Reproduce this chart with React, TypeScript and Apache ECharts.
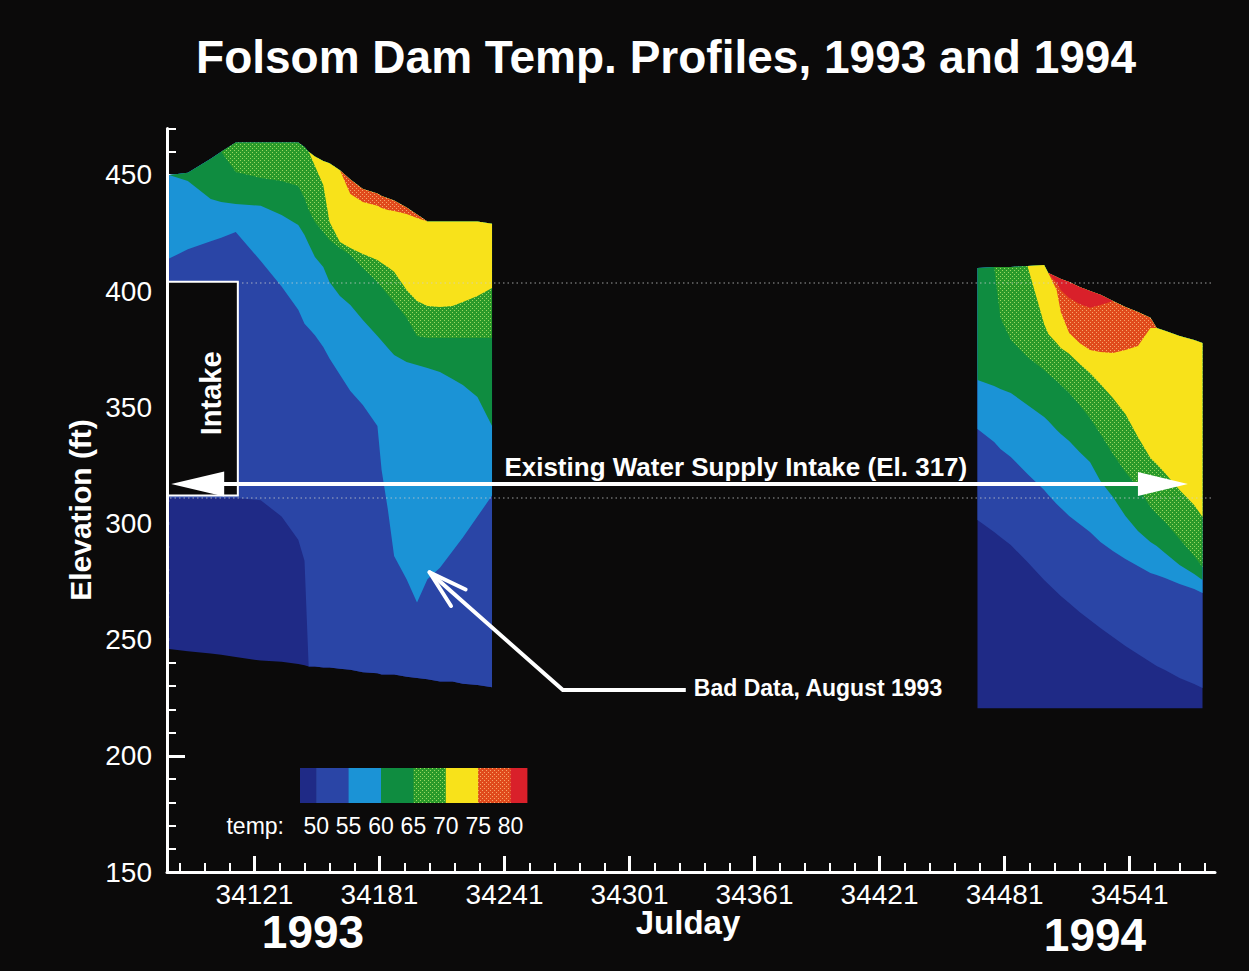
import React, { useEffect, useRef } from "react";
import * as echarts from "echarts";

// Temperature classes (deg F) used for the contour bands
const isotherms = [50, 55, 60, 65, 70, 75, 80];

// ---- 1993 profiles -------------------------------------------------------
// Julian day of each profile
const days1993 = [34080, 34089, 34100, 34105, 34112, 34124, 34134, 34142, 34145, 34147, 34150, 34154, 34157, 34162, 34167, 34173, 34180, 34182, 34185, 34188, 34194, 34199, 34204, 34210, 34216, 34221, 34228, 34235];
// Reservoir surface and deepest reading (ft)
const surface1993 = [450, 451, 457, 460, 464, 464, 464, 464, 462, 460, 458, 456, 455, 452, 448, 444, 442, 441, 440, 439, 436, 433, 430, 430, 430, 430, 430, 429];
const bottom1993 = [246, 245, 244, 243.5, 242.5, 241, 240.5, 239.5, 239, 238.5, 238.5, 238, 238, 237.5, 237, 236, 235.5, 235, 235, 235, 234, 233.5, 233, 232, 232, 231, 230.5, 229.5];
// Elevation (ft) at which each profile crosses an isotherm; null = not crossed
const iso50_1993 = [311, 311, 311, 311, 311, 310, 303, 293, 284, null, null, null, null, null, null, null, null, null, null, null, null, null, null, null, null, null, null, null];
const iso55_1993 = [414, 418, 421.5, 423, 425.5, 413, 402, 392, 386, 384, 381, 376, 371, 364, 357, 351, 342, 323, 306, 286, 276, 266, 276, 281, 288, 294, 303, 312];
const iso60_1993 = [null, 447.4, 439.7, 438.4, 437.5, 436.7, 432.8, 428.5, 424.2, 420.3, 414.7, 410.4, 403.9, 397.9, 394, 387.6, 380.7, 378.6, 375.5, 372.5, 369.5, 368.2, 366.9, 365.2, 362.2, 359.6, 354.4, 342];
const iso65_1993 = [null, null, null, null, 451.3, 448.7, 447.4, 445.3, 440.1, 434.9, 429.8, 425.5, 422, 418.6, 415.6, 410, 403.9, 401.8, 398.4, 395.3, 388.5, 380.7, 379.8, 379.8, 379.8, 379.8, 379.8, 379.8];
const iso70_1993 = [null, null, null, null, null, null, null, null, null, null, 453.9, 445.7, 429.8, 421.2, 418.6, 416, 413.4, 412.1, 410.4, 408.3, 400.5, 395.8, 393.6, 393.2, 393.6, 395.3, 397.9, 401.4];
const iso75_1993 = [null, null, null, null, null, null, null, null, null, null, null, null, null, null, 441.8, 438.4, 436.7, 435.8, 434.9, 434.5, 433.2, 431.5, null, null, null, null, null, null];
const iso80_1993 = [null, null, null, null, null, null, null, null, null, null, null, null, null, null, null, null, null, null, null, null, null, null, null, null, null, null, null, null];

// ---- 1994 profiles -------------------------------------------------------
const days1994 = [34468, 34476, 34479, 34484, 34492, 34500, 34502, 34506, 34508, 34512, 34517, 34522, 34527, 34533, 34539, 34545, 34551, 34554, 34558, 34565, 34572, 34576];
const surface1994 = [410, 410.4, 410.4, 410.4, 410.8, 411.3, 407.8, 406.1, 405.2, 403.9, 401.8, 400.1, 398.4, 395.8, 393.2, 391, 388.5, 384.1, 382.9, 380.7, 379, 377.7];
const bottom1994 = [220.5, 220.5, 220.5, 220.5, 220.5, 220.5, 220.5, 220.5, 220.5, 220.5, 220.5, 220.5, 220.5, 220.5, 220.5, 220.5, 220.5, 220.5, 220.5, 220.5, 220.5, 220.5];
const iso50_1994 = [301.5, 296.3, 294.2, 290.7, 283.4, 275.7, 274, 270.5, 268.8, 265.8, 261.9, 258.5, 255, 251.1, 247.3, 243.8, 240.4, 238.7, 236.9, 233.5, 230.9, 229.2];
const iso55_1994 = [340.7, 335.1, 332.1, 328.6, 321.3, 314.4, 312.3, 308.4, 306.7, 303.2, 299.8, 296.3, 292, 288.2, 284.7, 281.7, 278.7, 277.8, 276.5, 274, 271.8, 270.1];
const iso60_1994 = [361.8, 359.2, 357.9, 356.2, 351, 345.8, 344.1, 340.2, 338.5, 335.5, 330.8, 326.5, 318.3, 311.4, 303.2, 296.8, 292, 290.3, 287.3, 282.1, 278.3, 275.7];
const iso65_1994 = [null, null, 388.5, 379, 371.7, 366.1, 364.3, 361.3, 359.6, 356.2, 351, 345.4, 338.5, 329.9, 322.2, 315.7, 307.1, 304.1, 300.6, 293.3, 286, 281.3];
const iso70_1994 = [null, null, null, null, null, 385.9, 381.6, 377.7, 375.5, 373, 368.7, 364.8, 360, 354, 347.1, 337.2, 328.2, 325.6, 321.7, 314.4, 308, 302.8];
const iso75_1994 = [null, null, null, null, null, null, null, 400.5, 391, 382, 377.7, 374.7, 373.8, 373.4, 374.7, 376.4, 384.1, null, null, null, null, null];
const iso80_1994 = [null, null, null, null, null, null, null, 403.5, 400.5, 397.1, 394.5, 392.8, 394, null, null, null, null, null, null, null, null, null];

// ---- axes ----------------------------------------------------------------
const dayMin = 34079;
const dayMax = 34582;
const elevMin = 150;
const elevMax = 470;
const majorDays = [34121, 34181, 34241, 34301, 34361, 34421, 34481, 34541];
const minorDays = [34085, 34097, 34109, 34133, 34145, 34157, 34169, 34193, 34205, 34217, 34229, 34253, 34265, 34277, 34289, 34313, 34325, 34337, 34349, 34373, 34385, 34397, 34409, 34433, 34445, 34457, 34469, 34493, 34505, 34517, 34529, 34553, 34565, 34577];
const majorElev = [150, 200, 250, 300, 350, 400, 450];
const minorElev = [160, 170, 180, 190, 210, 220, 230, 240, 260, 270, 280, 290, 310, 320, 330, 340, 360, 370, 380, 390, 410, 420, 430, 440, 460, 470];

// ---- annotations ---------------------------------------------------------
const intakeElevation = 317;
const intakeArrowDays = [34081, 34569];
const intakeLabelDay = 34352;
const intakeBoxDays = [34079, 34113];
const intakeBoxElev = [312, 404];
const intakeLabelPos = [34100, 356];
const guideElevations = [403.5, 311];
const badDataTip = [34205, 279];
const badDataElbow = [34269, 228.3];
const badDataEnd = [34328, 228.3];

// Band colours, coldest to warmest; hatched classes get a dot overlay
const bandColors = ["#1f2a86", "#2a45a6", "#1b93d6", "#0f8c40", "#2a9a2a", "#f8e21a", "#e04a1c", "#d9202a"];
const bandDots: (string | null)[] = [null, null, null, null, "#9ad860", null, "#f7a56a", null];

type Profile = { days: number[]; surface: number[]; bottom: number[]; iso: (number | null)[][] };

const profile1993: Profile = {
  days: days1993, surface: surface1993, bottom: bottom1993,
  iso: [iso50_1993, iso55_1993, iso60_1993, iso65_1993, iso70_1993, iso75_1993, iso80_1993],
};
const profile1994: Profile = {
  days: days1994, surface: surface1994, bottom: bottom1994,
  iso: [iso50_1994, iso55_1994, iso60_1994, iso65_1994, iso70_1994, iso75_1994, iso80_1994],
};

// Lower edge of every band in one profile: [bottom, e50, e55, ..., e80]
function columnLevels(p: Profile, i: number): number[] {
  const raw = p.iso.map((a) => a[i]);
  const first = raw.findIndex((v) => v != null);
  const b = p.bottom[i];
  const s = p.surface[i];
  const levels = [b];
  let prev = b;
  raw.forEach((v, j) => {
    let e = v == null ? (first === -1 || j < first ? b : s) : v;
    e = Math.min(Math.max(e, prev), s);
    levels.push(e);
    prev = e;
  });
  return levels;
}

function makeHatch(base: string, dot: string) {
  const c = document.createElement("canvas");
  c.width = 4;
  c.height = 4;
  const g = c.getContext("2d")!;
  g.fillStyle = base;
  g.fillRect(0, 0, 4, 4);
  g.fillStyle = dot;
  g.fillRect(0, 0, 1, 1);
  g.fillRect(2, 2, 1, 1);
  return { image: c.toDataURL(), repeat: "repeat", imageWidth: 4, imageHeight: 4 };
}

const FONT = '"Liberation Sans", Arial, sans-serif';

export default function App() {
  const ref = useRef<HTMLDivElement>(null);

  useEffect(() => {
    if (!ref.current) return;
    const chart = echarts.init(ref.current, null, { renderer: "svg" });

    const fills: any[] = bandColors.map((c, k) => (bandDots[k] ? makeHatch(c, bandDots[k] as string) : c));

    const bandSeries = (name: string, p: Profile) => ({
      type: "custom",
      name,
      coordinateSystem: "cartesian2d",
      silent: true,
      z: 2,
      data: fills.map(() => [p.days[0], p.bottom[0]]),
      renderItem: (params: any, api: any) => {
        const k = params.dataIndex;
        const top = p.days.map((d, i) => api.coord([d, p.surface[i]]));
        const low = p.days.map((d, i) => api.coord([d, columnLevels(p, i)[k]])).reverse();
        return {
          type: "polygon",
          z2: k,
          shape: { points: top.concat(low) },
          style: { fill: fills[k] },
        };
      },
    });

    const annotationSeries = {
      type: "custom",
      name: "annotations",
      coordinateSystem: "cartesian2d",
      silent: true,
      z: 5,
      data: [[intakeArrowDays[0], intakeElevation]],
      renderItem: (_params: any, api: any) => {
        const children: any[] = [];
        // dotted guide lines
        guideElevations.forEach((e) => {
          const a = api.coord([dayMin, e]);
          const b = api.coord([dayMax, e]);
          children.push({
            type: "line",
            shape: { x1: a[0] + 3, y1: a[1], x2: b[0] - 4, y2: b[1] },
            style: { stroke: "rgba(205,205,205,0.5)", lineWidth: 1.5, lineDash: [1.5, 3] },
          });
        });
        // intake box
        const p0 = api.coord([intakeBoxDays[0], intakeBoxElev[1]]);
        const p1 = api.coord([intakeBoxDays[1], intakeBoxElev[0]]);
        children.push({
          type: "rect",
          shape: { x: p0[0] + 1, y: p0[1], width: p1[0] - p0[0] - 1, height: p1[1] - p0[1] },
          style: { fill: "#0b0a0a", stroke: "#ffffff", lineWidth: 2 },
        });
        const lp = api.coord(intakeLabelPos);
        children.push({
          type: "text",
          x: lp[0],
          y: lp[1],
          rotation: Math.PI / 2,
          style: { text: "Intake", fill: "#ffffff", font: `bold 29px ${FONT}`, align: "center", verticalAlign: "middle" },
        });
        // water supply intake double arrow
        const l = api.coord([intakeArrowDays[0], intakeElevation]);
        const r = api.coord([intakeArrowDays[1], intakeElevation]);
        children.push({
          type: "line",
          shape: { x1: l[0] + 20, y1: l[1], x2: r[0] - 20, y2: r[1] },
          style: { stroke: "#ffffff", lineWidth: 4 },
        });
        children.push({
          type: "polygon",
          shape: { points: [[l[0], l[1]], [l[0] + 53, l[1] - 12.5], [l[0] + 53, l[1] + 12.5]] },
          style: { fill: "#ffffff" },
        });
        children.push({
          type: "polygon",
          shape: { points: [[r[0], r[1]], [r[0] - 50, r[1] - 12], [r[0] - 50, r[1] + 12]] },
          style: { fill: "#ffffff" },
        });
        const t = api.coord([intakeLabelDay, intakeElevation]);
        children.push({
          type: "text",
          x: t[0],
          y: t[1] - 17,
          style: {
            text: "Existing Water Supply Intake (El. 317)",
            fill: "#ffffff",
            font: `bold 26px ${FONT}`,
            align: "center",
            verticalAlign: "middle",
          },
        });
        // bad data pointer
        const tip = api.coord(badDataTip);
        const elbow = api.coord(badDataElbow);
        const end = api.coord(badDataEnd);
        children.push({
          type: "polyline",
          shape: { points: [end, elbow, tip] },
          style: { stroke: "#ffffff", lineWidth: 4, fill: null, lineJoin: "miter" },
        });
        const ang = Math.atan2(elbow[1] - tip[1], elbow[0] - tip[0]);
        [-0.28, 0.28].forEach((da) => {
          children.push({
            type: "line",
            shape: {
              x1: tip[0],
              y1: tip[1],
              x2: tip[0] + 40 * Math.cos(ang + da),
              y2: tip[1] + 40 * Math.sin(ang + da),
            },
            style: { stroke: "#ffffff", lineWidth: 4, lineCap: "round" },
          });
        });
        children.push({
          type: "text",
          x: end[0] + 8,
          y: end[1] - 2,
          style: {
            text: "Bad Data, August 1993",
            fill: "#ffffff",
            font: `bold 23px ${FONT}`,
            align: "left",
            verticalAlign: "middle",
          },
        });
        return { type: "group", children };
      },
    };

    // colour key
    const legendLeft = 300;
    const legendTop = 768;
    const legendUnit = 32.4;
    const legendHeight = 35;
    const legendEls: any[] = [];
    let lx = legendLeft;
    const edges: number[] = [];
    bandColors.forEach((_c, k) => {
      const w = (k === 0 || k === bandColors.length - 1 ? 0.5 : 1) * legendUnit;
      legendEls.push({
        type: "rect",
        shape: { x: lx, y: legendTop, width: w + 0.6, height: legendHeight },
        style: { fill: fills[k] },
      });
      lx += w;
      edges.push(lx);
    });
    isotherms.forEach((v, j) => {
      legendEls.push({
        type: "text",
        x: edges[j],
        y: 826,
        style: { text: String(v), fill: "#ffffff", font: `23px ${FONT}`, align: "center", verticalAlign: "middle", textAlign: "center", textVerticalAlign: "middle" },
      });
    });
    legendEls.push({
      type: "text",
      x: 284,
      y: 826,
      style: { text: "temp:", fill: "#ffffff", font: `23px ${FONT}`, align: "right", verticalAlign: "middle", textAlign: "right", textVerticalAlign: "middle" },
    });

    const txt = (text: string, x: number, y: number, font: string, rotation = 0) => ({
      type: "text",
      x,
      y,
      rotation,
      style: { text, fill: "#ffffff", font, align: "center", verticalAlign: "middle", textAlign: "center", textVerticalAlign: "middle" },
    });

    const axisCommon = {
      type: "value",
      splitLine: { show: false },
      axisPointer: { show: false },
    };

    chart.setOption({
      animation: false,
      backgroundColor: "#0b0a0a",
      grid: { left: 167, top: 128.5, width: 1048, height: 743.5, outerBoundsMode: "none" },
      xAxis: [
        {
          ...axisCommon,
          min: dayMin,
          max: dayMax,
          position: "bottom",
          axisLine: { show: true, lineStyle: { color: "#ffffff", width: 3 } },
          axisTick: { show: true, inside: true, length: 16, customValues: majorDays, lineStyle: { color: "#ffffff", width: 3 } },
          axisLabel: {
            show: true,
            customValues: majorDays,
            color: "#ffffff",
            fontSize: 28,
            fontFamily: FONT,
            margin: 8,
            formatter: (v: number) => String(v),
          },
        },
        {
          ...axisCommon,
          min: dayMin,
          max: dayMax,
          position: "bottom",
          axisLine: { show: false },
          axisTick: { show: true, inside: true, length: 9, customValues: minorDays, lineStyle: { color: "#ffffff", width: 2 } },
          axisLabel: { show: false },
        },
      ],
      yAxis: [
        {
          ...axisCommon,
          min: elevMin,
          max: elevMax,
          position: "left",
          axisLine: { show: true, lineStyle: { color: "#ffffff", width: 3 } },
          axisTick: { show: true, inside: true, length: 18, customValues: majorElev, lineStyle: { color: "#ffffff", width: 3 } },
          axisLabel: {
            show: true,
            customValues: majorElev,
            color: "#ffffff",
            fontSize: 28,
            fontFamily: FONT,
            margin: 15,
            formatter: (v: number) => String(v),
          },
        },
        {
          ...axisCommon,
          min: elevMin,
          max: elevMax,
          position: "left",
          axisLine: { show: false },
          axisTick: { show: true, inside: true, length: 9, customValues: minorElev, lineStyle: { color: "#ffffff", width: 2 } },
          axisLabel: { show: false },
        },
      ],
      series: [bandSeries("1993", profile1993), bandSeries("1994", profile1994), annotationSeries],
      graphic: [
        txt("Folsom Dam Temp. Profiles, 1993 and 1994", 666, 57, `bold 46px ${FONT}`),
        txt("Elevation (ft)", 80, 510, `bold 30px ${FONT}`, Math.PI / 2),
        txt("Julday", 688, 922, `bold 33px ${FONT}`),
        txt("1993", 313, 932, `bold 46px ${FONT}`),
        txt("1994", 1095, 935, `bold 46px ${FONT}`),
        ...legendEls,
      ],
    });

    return () => chart.dispose();
  }, []);

  return (
    <div
      ref={ref}
      style={{ position: "fixed", left: 0, top: 0, width: 1249, height: 971, background: "#0b0a0a" }}
    />
  );
}
